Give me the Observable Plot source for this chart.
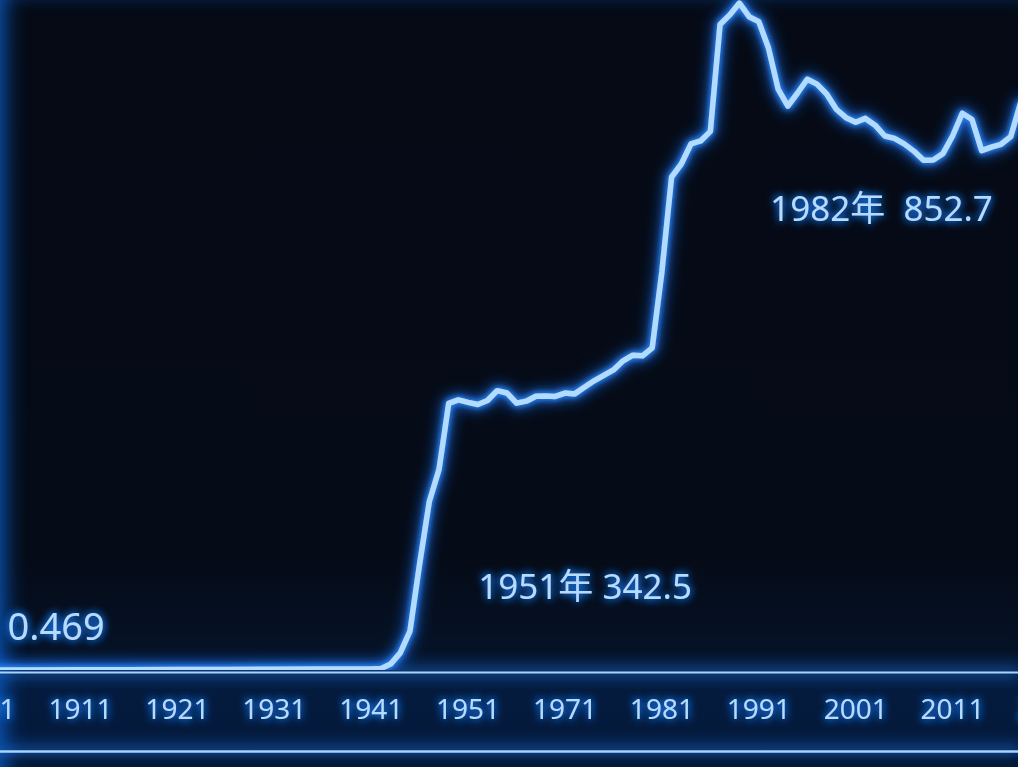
<!DOCTYPE html>
<html>
<head>
<meta charset="utf-8">
<script src="https://cdn.jsdelivr.net/npm/d3@7"></script>
<script src="https://cdn.jsdelivr.net/npm/@observablehq/plot@0.6"></script>
<style>
  html, body { margin: 0; padding: 0; background: #050a14; overflow: hidden; }
  #chart {
    width: 1018px; height: 767px; position: relative; overflow: hidden;
    background: linear-gradient(to bottom,
      #050a15 0px, #050b17 560px, #051226 650px, #07224a 668px,
      #062350 673px, #041b3e 690px, #041a3c 730px, #062554 748px,
      #062656 753px, #03112a 760px, #030a1a 767px);
    box-shadow: inset 14px 0 22px -10px #0b5cc4;
  }
  svg { display: block; }
</style>
</head>
<body>
<div id="chart"></div>
<script>
// ---- data ----
const years = [1901, 1906, 1911, 1916, 1921, 1926, 1931, 1936, 1941, 1942,
  1943, 1944, 1945, 1946, 1947, 1948, 1949, 1950, 1951, 1952,
  1953, 1954, 1955, 1956, 1957, 1958, 1959, 1960, 1961, 1962,
  1963, 1964, 1965, 1966, 1967, 1968, 1969, 1970, 1971, 1972,
  1973, 1974, 1975, 1976, 1977, 1978, 1979, 1980, 1981, 1982,
  1983, 1984, 1985, 1986, 1987, 1988, 1989, 1990, 1991, 1992,
  1993, 1994, 1995, 1996, 1997, 1998, 1999, 2000, 2001, 2002,
  2003, 2004, 2005, 2006, 2007, 2008];
const values = [0.469, 0.6, 0.8, 1.0, 1.2, 1.4, 1.6, 1.8, 2.0, 2.4,
  8.2, 22.5, 50.4, 136.4, 216.0, 257.0, 341.2, 345.7, 342.5, 339.9,
  344.9, 357.5, 354.6, 341.6, 344.1, 350.3, 350.7, 350.2, 354.5, 353.4,
  361.9, 370.1, 377.0, 384.0, 395.6, 402.9, 402.0, 412.3, 509.7, 630.5,
  647.1, 672.7, 676.6, 688.8, 825.4, 837.6, 852.7, 835.3, 829.0, 795.3,
  742.8, 721.2, 737.8, 755.4, 749.1, 736.6, 717.1, 706.3, 700.5, 705.4,
  696.7, 682.9, 679.8, 672.8, 663.6, 651.9, 652.2, 660.4, 682.9, 712.0,
  704.0, 664.2, 668.7, 672.3, 682.0, 724.6];

const tickYears  = [1901, 1911, 1921, 1931, 1941, 1951, 1961, 1971, 1981, 1991, 2001, 2011];
const tickLabels = ["1901", "1911", "1921", "1931", "1941", "1951", "1971", "1981", "1991", "2001", "2011", "2021"];

const annotYears  = [1901, 1951, 1982];
const annotValues = [0.469, 342.5, 852.7];
const annotTexts  = ["0.469", "1951年 342.5", "1982年  852.7"];

// ---- build tables ----
const series = years.map((y, i) => ({year: y, value: values[i]}));
const ticks = tickYears.map((y, i) => ({year: y, label: tickLabels[i]}));
const annots = annotYears.map((y, i) => ({year: y, value: annotValues[i], text: annotTexts[i]}));

const font = "'Noto Sans', 'Noto Sans CJK SC', sans-serif";
const textFill = "#b3dcff";

const plot = Plot.plot({
  width: 1018,
  height: 767,
  marginTop: 0,
  marginRight: 0,
  marginBottom: 97,
  marginLeft: 0,
  style: {background: "transparent", fontFamily: font, overflow: "visible"},
  x: {domain: [1902.744, 2007.801], axis: null},
  y: {domain: [0, 856], axis: null},
  marks: [
    Plot.ruleY([0], {stroke: "#2a8cff", strokeWidth: 3, dy: 2, ariaDescription: "glow-rule"}),
    Plot.ruleY([0], {stroke: "#2a8cff", strokeWidth: 3, dy: 81, ariaDescription: "glow-rule"}),
    Plot.ruleY([0], {stroke: "#a6d6ff", strokeWidth: 2.2, dy: 2}),
    Plot.ruleY([0], {stroke: "#a6d6ff", strokeWidth: 2.6, dy: 81}),
    Plot.lineY(series, {x: "year", y: "value", stroke: "#1a74ff", strokeWidth: 14,
      strokeOpacity: 0.6, strokeLinejoin: "round", clip: true, ariaDescription: "wide-glow"}),
    Plot.lineY(series, {x: "year", y: "value", stroke: "#b2dcff", strokeWidth: 5.5,
      strokeLinejoin: "round", strokeLinecap: "round", clip: true, ariaDescription: "core-line"}),
    Plot.text(ticks, {x: "year", text: "label", frameAnchor: "bottom", dy: 40,
      lineAnchor: "middle", fontSize: 28, fill: textFill, ariaDescription: "glow-text"}),
    Plot.text(annots.slice(0, 1), {x: "year", y: "value", text: "text", dx: 24, dy: -42,
      textAnchor: "start", lineAnchor: "middle", fontSize: 38, fill: textFill, ariaDescription: "glow-text"}),
    Plot.text(annots.slice(1, 2), {x: "year", y: "value", text: "text", dx: 117, dy: 185,
      lineAnchor: "middle", fontSize: 35, fill: textFill, ariaDescription: "glow-text"}),
    Plot.text(annots.slice(2, 3), {x: "year", y: "value", text: "text", dx: 113, dy: 207,
      lineAnchor: "middle", fontSize: 35, fill: textFill, ariaDescription: "glow-text"})
  ]
});

document.getElementById("chart").appendChild(plot);

// glow filters
const svg = d3.select(plot);
const defs = svg.insert("defs", ":first-child");
function glow(id, sd, color, op) {
  const f = defs.append("filter").attr("id", id)
    .attr("filterUnits", "userSpaceOnUse")
    .attr("x", -100).attr("y", -100).attr("width", 1218).attr("height", 967);
  f.append("feGaussianBlur").attr("in", "SourceAlpha").attr("stdDeviation", sd).attr("result", "b");
  f.append("feFlood").attr("flood-color", color).attr("flood-opacity", op);
  f.append("feComposite").attr("in2", "b").attr("operator", "in").attr("result", "g");
  const m = f.append("feMerge");
  m.append("feMergeNode").attr("in", "g");
  m.append("feMergeNode").attr("in", "g");
  m.append("feMergeNode").attr("in", "SourceGraphic");
}
glow("glowText", 4, "#1b7dff", 0.9);
glow("glowLine", 3, "#2f8dff", 0.85);
const blur = defs.append("filter").attr("id", "blurWide")
  .attr("filterUnits", "userSpaceOnUse")
  .attr("x", -100).attr("y", -100).attr("width", 1218).attr("height", 967);
blur.append("feGaussianBlur").attr("stdDeviation", 7);

svg.selectAll('[aria-description="glow-text"]').attr("filter", "url(#glowText)");
svg.selectAll('[aria-description="core-line"]').attr("filter", "url(#glowLine)");
svg.selectAll('[aria-description="glow-rule"]').attr("filter", "url(#blurWide)");
svg.selectAll('[aria-description="wide-glow"]').attr("filter", "url(#blurWide)");
svg.selectAll('text').style("white-space", "pre");
</script>
</body>
</html>
